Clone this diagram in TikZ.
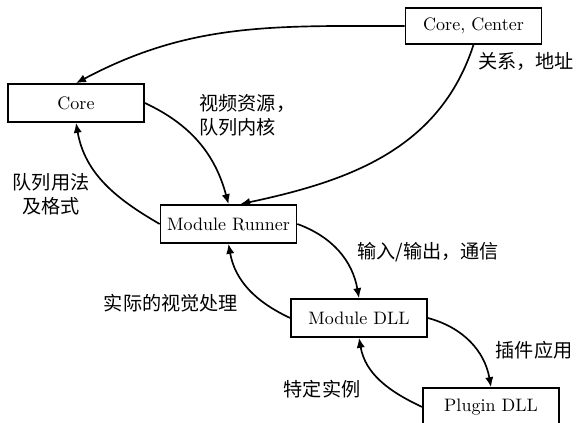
\documentclass[tikz,border=0pt]{standalone}
\usepackage{fontspec}
\usetikzlibrary{arrows.meta}
\newfontfamily\cjk{Noto Sans CJK SC}
\begin{document}
\begin{tikzpicture}[>={Latex[length=6pt,width=5pt]}, x=0.6pt, y=0.6pt,
    modbox/.style={draw, line width=1pt, minimum width=81.6pt, minimum height=22.8pt,
        inner sep=0pt, font=\fontsize{10.8}{12}\selectfont},
    link/.style={->, line width=1pt},
    note/.style={font=\cjk\fontsize{11.5}{14.4}\selectfont, inner sep=0pt}]
\useasboundingbox (0,0) rectangle (577,423);
    % Các khối
    \node[modbox, minimum height=21.6pt] (center) at (473.5,397) {Core, Center};
    \node[modbox] (core) at (76,320) {Core};
    \node[modbox] (runner) at (228.5,199) {Module Runner};
    \node[modbox] (mdll) at (359,105) {Module DLL};
    \node[modbox] (plugin) at (491,16) {Plugin DLL};

    % Các mũi tên
    \draw[link] (center.west) to[out=180,in=28] (core.north);
    \draw[link] (center.south) to[out=-108,in=12] ([xshift=7pt]runner.north);
    \draw[link] (core.east) to[out=-25,in=105] (runner.north);
    \draw[link] (runner.west) to[out=150,in=-80] (core.south);
    \draw[link] (runner.east) to[out=-20,in=100] (mdll.north);
    \draw[link] (mdll.west) to[out=155,in=-80] (runner.south);
    \draw[link] (mdll.east) to[out=-15,in=100] (plugin.north);
    \draw[link] (plugin.west) to[out=155,in=-80] (mdll.south);

    % Nhãn
    \node[note] (lbladdr) at (526,362) {关系，地址};
    \node[note, anchor=west, align=left] (lblres) at (199,308) {视频资源，\\队列内核};
    \node[note, align=center] (lblfmt) at (51,229) {队列用法\\及格式};
    \node[note] (lblio) at (428,171) {输入/输出，通信};
    \node[note] (lblvis) at (171,120) {实际的视觉处理};
    \node[note] (lblplug) at (534,73) {插件应用};
    \node[note] (lblinst) at (322,34) {特定实例};
\end{tikzpicture}
\end{document}
